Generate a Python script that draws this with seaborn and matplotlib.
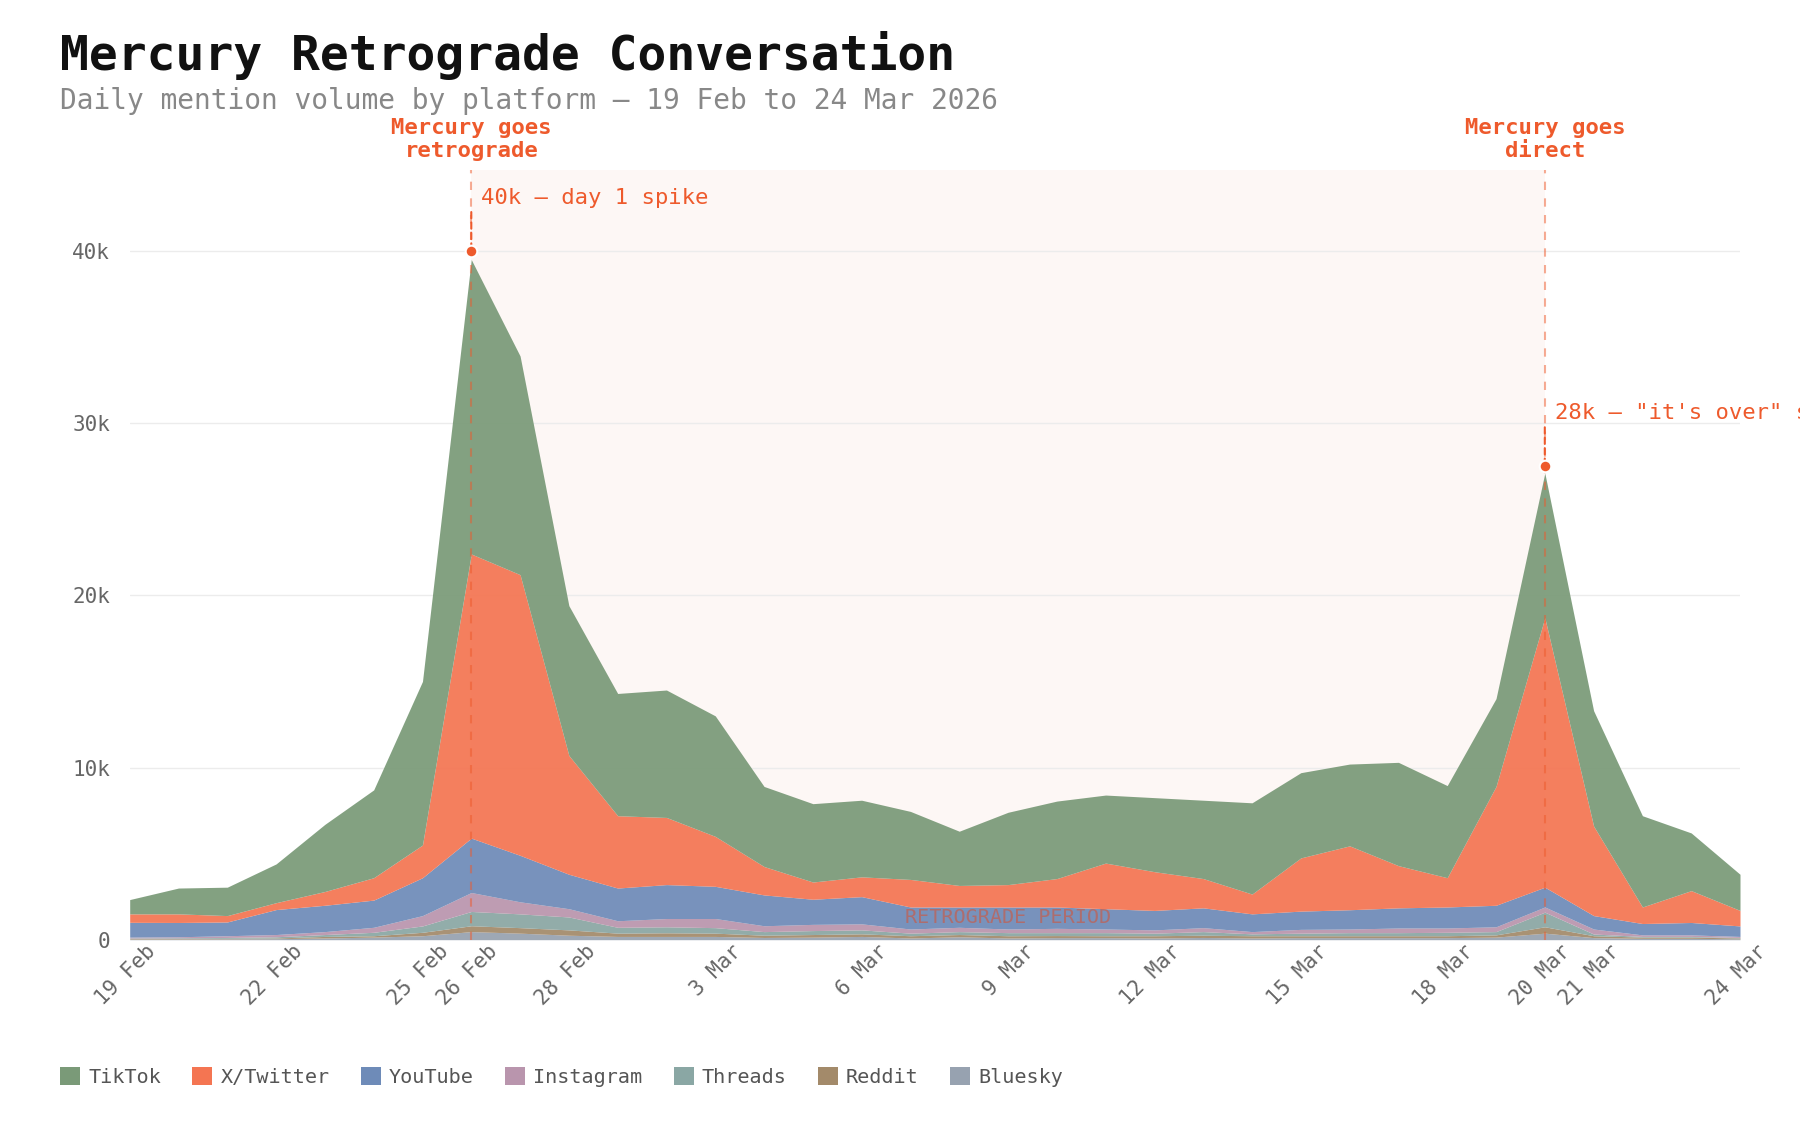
import numpy as np
import pandas as pd
import matplotlib
matplotlib.use("Agg")
import matplotlib.pyplot as plt
import matplotlib.dates as mdates
import seaborn as sns
from matplotlib.patches import Patch
from matplotlib.transforms import ScaledTranslation, blended_transform_factory

# ---------------- data ----------------
start_date = "2026-02-19"
end_date = "2026-03-24"
platforms = ["TikTok", "X/Twitter", "YouTube", "Instagram", "Threads", "Reddit", "Bluesky"]
platform_colors = ["#7a9a78", "#f47552", "#6e8bb8", "#b995ad", "#8aa7a4", "#a38a6a", "#97a2b0"]

tiktok = [830, 1500, 1650, 2250, 3900, 5100, 9500, 17100, 12700, 8700, 7100, 7400, 7000, 4650,
          4550, 4450, 3950, 3150, 4200, 4500, 3950, 4300, 4550, 5300, 4950, 4750, 6000, 5350,
          5100, 8400, 6700, 5300, 3350, 2100]
twitter = [490, 500, 370, 400, 800, 1300, 1900, 16500, 16300, 6900, 4200, 3900, 2900, 1650,
           1000, 1150, 1600, 1250, 1300, 1650, 2650, 2250, 1700, 1150, 3090, 3710, 2450, 1700,
           6900, 15650, 5200, 960, 1850, 900]
youtube = [860, 830, 800, 1450, 1530, 1580, 2200, 3160, 2700, 2000, 1900, 1970, 1870, 1790,
           1460, 1580, 1280, 1180, 1280, 1240, 1180, 1130, 1150, 1030, 1060, 1120, 1170, 1220,
           1250, 1150, 780, 660, 720, 610]
instagram = [50, 60, 100, 130, 170, 290, 600, 1100, 700, 480, 380, 480, 530, 340, 360, 350,
             240, 250, 210, 250, 210, 190, 230, 130, 220, 210, 270, 250, 280, 300, 290, 90, 90, 60]
threads = [30, 40, 50, 70, 110, 200, 370, 830, 800, 750, 340, 350, 320, 210, 230, 230, 150,
           170, 180, 170, 180, 150, 210, 110, 150, 180, 180, 200, 190, 850, 100, 40, 40, 30]
reddit = [30, 30, 30, 40, 90, 80, 200, 340, 320, 310, 190, 210, 190, 130, 150, 150, 130, 130,
          130, 120, 110, 130, 130, 130, 110, 110, 110, 110, 130, 370, 110, 70, 70, 50]
bluesky = [40, 40, 50, 60, 100, 150, 230, 470, 380, 260, 190, 190, 190, 130, 150, 190, 100,
           170, 100, 120, 120, 100, 130, 100, 120, 120, 120, 120, 150, 380, 120, 80, 80, 50]

x_tick_labels = ["19 Feb", "22 Feb", "25 Feb", "26 Feb", "28 Feb", "3 Mar", "6 Mar", "9 Mar",
                 "12 Mar", "15 Mar", "18 Mar", "20 Mar", "21 Mar", "24 Mar"]
y_ticks = [0, 10000, 20000, 30000, 40000]
y_tick_labels = ["0", "10k", "20k", "30k", "40k"]

event_dates = ["2026-02-26", "2026-03-20"]
event_titles = ["Mercury goes\nretrograde", "Mercury goes\ndirect"]
event_notes = ["40k — day 1 spike", "28k — \"it's over\" spike"]
event_marks = [40000, 27500]
period_label = "RETROGRADE PERIOD"

title = "Mercury Retrograde Conversation"
subtitle = "Daily mention volume by platform — 19 Feb to 24 Mar 2026"

# ---------------- style ----------------
sns.set_theme(style="white")
plt.rcParams["font.family"] = ["DejaVu Sans Mono", "DejaVu Sans"]

RED = "#ee5a2c"
W, H, DPI = 1800, 1130, 100

dates = pd.date_range(start_date, end_date, freq="D")
xnum = mdates.date2num(dates)
df = pd.DataFrame({"x": xnum, "TikTok": tiktok, "X/Twitter": twitter, "YouTube": youtube,
                   "Instagram": instagram, "Threads": threads, "Reddit": reddit,
                   "Bluesky": bluesky})
ev = mdates.date2num(pd.to_datetime(event_dates))

fig = plt.figure(figsize=(W / DPI, H / DPI), dpi=DPI, facecolor="white")
ax = fig.add_axes([129.7 / W, 1 - 939.7 / H, (1740 - 129.7) / W, (939.7 - 170) / H])
ax.set_facecolor("white")

# retrograde shading
ax.axvspan(ev[0], ev[1], color="#fdf7f5", zorder=0, lw=0)

# stacked areas, bottom -> top
order = platforms[::-1]
cmap = dict(zip(platforms, platform_colors))
ax.stackplot(df["x"], *[df[p] for p in order], colors=[cmap[p] for p in order],
             alpha=0.93, lw=0, zorder=2)

ax.set_xlim(xnum[0], xnum[-1])
ax.set_ylim(0, 44700)
ax.set_yticks(y_ticks)
ax.set_yticklabels(y_tick_labels)
tick_x = mdates.date2num(pd.to_datetime([t + " 2026" for t in x_tick_labels], format="%d %b %Y"))
ax.set_xticks(tick_x)
ax.set_xticklabels(x_tick_labels)
ax.yaxis.grid(True, color="#ececec", lw=1, zorder=1)
ax.xaxis.grid(False)
ax.set_axisbelow(True)
for s in ax.spines.values():
    s.set_visible(False)
ax.tick_params(axis="y", labelsize=15, labelcolor="#666666", length=0, pad=14)
ax.tick_params(axis="x", labelsize=15, labelcolor="#666666", length=0, pad=6)
off = ScaledTranslation(23 / DPI, 0, fig.dpi_scale_trans)
for lab in ax.get_xticklabels():
    lab.set_rotation(45)
    lab.set_rotation_mode("anchor")
    lab.set_ha("right")
    lab.set_va("center")
    lab.set_transform(lab.get_transform() + off)
ax.set_xlabel("")
ax.set_ylabel("")

# event lines / labels
btr = blended_transform_factory(ax.transData, ax.transAxes)
for d, t, n, m in zip(ev, event_titles, event_notes, event_marks):
    ax.axvline(d, color=RED, alpha=0.5, lw=1.5, ls=(0, (4, 4)), zorder=4)
    ax.annotate(t, xy=(d, 1.0), xycoords=btr, xytext=(0, 6.3), textcoords="offset points",
                ha="center", va="bottom", fontsize=16, fontweight="bold", color=RED,
                linespacing=1.22, annotation_clip=False)
    ax.annotate("", xy=(d, m), xytext=(0, 28), textcoords="offset points",
                arrowprops=dict(arrowstyle="-", color=RED, lw=1.5, ls=(0, (3, 2)),
                                shrinkA=0, shrinkB=0), zorder=5)
    ax.annotate(n, xy=(d, m), xytext=(7, 38), textcoords="offset points", ha="left",
                va="center", fontsize=16, color=RED, annotation_clip=False)

sns.scatterplot(x=list(ev), y=event_marks, ax=ax, color=RED, s=70, edgecolor="white",
                linewidth=1.5, zorder=6, legend=False)

mid = (ev[0] + ev[1]) / 2
ax.text(mid, 0.029, period_label, transform=btr, ha="center", va="center", fontsize=14.5,
        color="#d2553a", alpha=0.6, zorder=5)

# titles
fig.text(60 / W, 1 - 55 / H, title, fontsize=34.6, fontweight="bold", color="#111111",
         va="center", ha="left")
fig.text(60 / W, 1 - 101 / H, subtitle, fontsize=20.1, color="#888888", va="center", ha="left")

# legend
handles = [Patch(facecolor=cmap[p], edgecolor="none") for p in platforms]
leg = fig.legend(handles, platforms, loc="center left", bbox_to_anchor=(60 / W, 1 - 1077 / H),
                 ncol=7, frameon=False, fontsize=14.5, handlelength=1.0, handleheight=1.0,
                 handletextpad=0.4, columnspacing=1.55, borderpad=0, borderaxespad=0)
for t in leg.get_texts():
    t.set_color("#555555")

fig.savefig("out.png", dpi=DPI, facecolor="white")
